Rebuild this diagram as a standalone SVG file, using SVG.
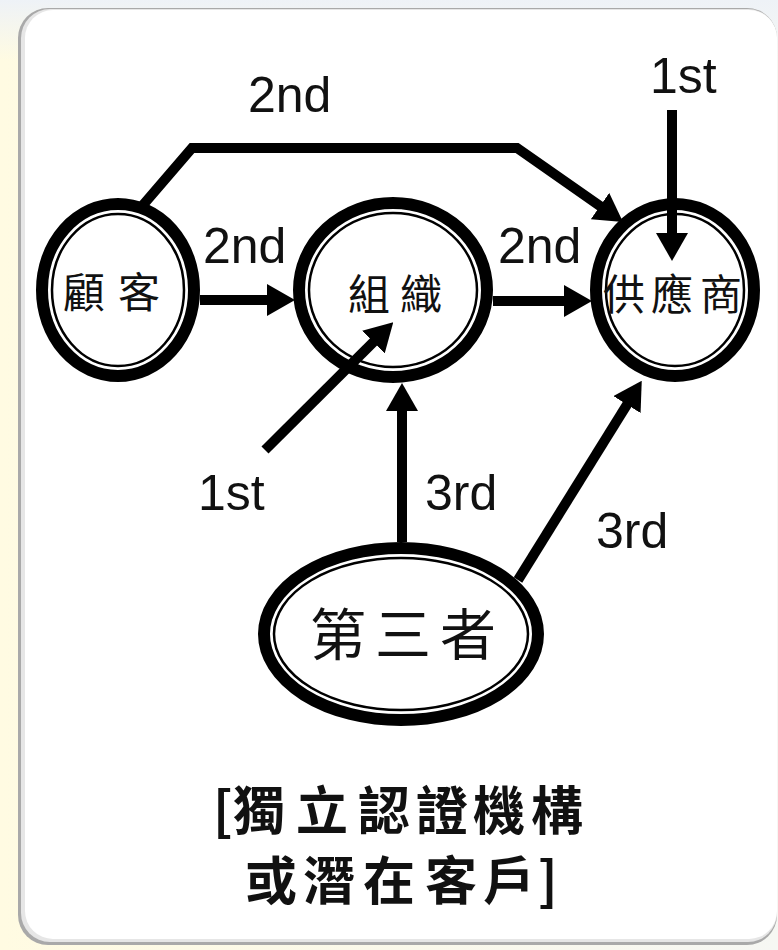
<svg xmlns="http://www.w3.org/2000/svg" width="778" height="950" viewBox="0 0 778 950">
<defs>
<linearGradient id="bg" x1="0" y1="0" x2="1" y2="0">
<stop offset="0" stop-color="#fffbe2"/>
<stop offset="1" stop-color="#f6f7f3"/>
</linearGradient>
<linearGradient id="bgTop" x1="0" y1="0" x2="0" y2="1">
<stop offset="0" stop-color="#eef2f7"/>
<stop offset="1" stop-color="#eef2f7" stop-opacity="0"/>
</linearGradient>
<marker id="ah" viewBox="0 -16 28 32" refX="8" refY="0" markerWidth="28" markerHeight="32" markerUnits="userSpaceOnUse" orient="auto">
<path d="M0,-16 L28,0 L0,16 z" fill="#000"/>
</marker>
</defs>
<style>
.ring{fill:#fff;stroke:#000;stroke-width:12}
.inner{fill:none;stroke:#000;stroke-width:2.5}
.lbl{font-family:"Liberation Sans",Arial,sans-serif;font-size:50px;fill:#111}
.cjk{font-family:"Noto Sans CJK TC","Noto Sans CJK SC",sans-serif;fill:#111}
.conn{fill:none;stroke:#000;stroke-width:10;stroke-linejoin:miter}
</style>
<rect x="0" y="0" width="778" height="950" fill="url(#bg)"/>
<rect x="0" y="0" width="778" height="60" fill="url(#bgTop)"/>
<g id="panel">
<rect x="18" y="8" width="759" height="937" rx="30" fill="#a9a9a9"/>
<rect x="21" y="9" width="756" height="933" rx="29" fill="#e6e6e6"/>
<rect x="25" y="10" width="752" height="929" rx="28" fill="#fff"/>
</g>
<g id="node-customer">
<ellipse class="ring" cx="118" cy="290" rx="76" ry="86"/>
<ellipse class="inner" cx="118" cy="290" rx="66" ry="76"/>
<text class="cjk" font-size="42" x="63 118" y="308">顧客</text>
</g>
<g id="node-org">
<ellipse class="ring" cx="393" cy="290" rx="94" ry="87"/>
<ellipse class="inner" cx="393" cy="290" rx="84" ry="77"/>
<text class="cjk" font-size="42" x="348 400" y="310">組織</text>
</g>
<g id="node-supplier">
<ellipse class="ring" cx="675" cy="290" rx="79" ry="86"/>
<ellipse class="inner" cx="675" cy="290" rx="69" ry="76"/>
<text class="cjk" font-size="42" x="603 651 700" y="310">供應商</text>
</g>
<g id="node-third">
<ellipse class="ring" cx="401" cy="634" rx="137" ry="86"/>
<ellipse class="inner" cx="401" cy="634" rx="127" ry="76"/>
<text class="cjk" font-size="56" x="310 375 440" y="655">第三者</text>
</g>
<g id="connectors">
<line class="conn" x1="200" y1="300" x2="275" y2="300" marker-end="url(#ah)"/>
<line class="conn" x1="493" y1="301" x2="572" y2="301" marker-end="url(#ah)"/>
<polyline class="conn" stroke-width="9" points="143,205 192,148 517,148 606.6,210.6" marker-end="url(#ah)"/>
<line class="conn" x1="672" y1="110" x2="672" y2="241" marker-end="url(#ah)"/>
<line class="conn" x1="265" y1="450" x2="379.1" y2="336.4" marker-end="url(#ah)"/>
<line class="conn" x1="402" y1="542" x2="402" y2="403" marker-end="url(#ah)"/>
<line class="conn" x1="518" y1="580" x2="631.2" y2="397.8" marker-end="url(#ah)"/>
</g>
<g id="labels">
<text class="lbl" x="248" y="112">2nd</text>
<text class="lbl" x="650" y="93">1st</text>
<text class="lbl" x="203" y="263">2nd</text>
<text class="lbl" x="498" y="263">2nd</text>
<text class="lbl" x="198" y="510">1st</text>
<text class="lbl" x="425" y="510">3rd</text>
<text class="lbl" x="596" y="548">3rd</text>
</g>
<g id="caption">
<text class="cjk" font-size="52" font-weight="700" x="213 233 296 358 416 473 531" y="830">[獨立認證機構</text>
<text class="cjk" font-size="52" font-weight="700" x="245 303 363 425 483 538" y="900">或潛在客戶]</text>
</g>
</svg>
